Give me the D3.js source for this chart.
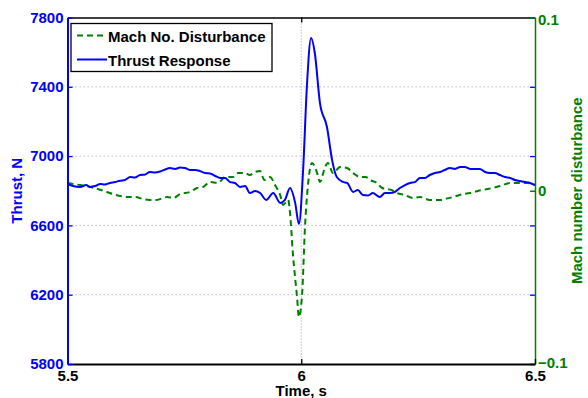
<!DOCTYPE html>
<html>
<head>
<meta charset="utf-8">
<script src="https://cdn.jsdelivr.net/npm/d3@7"></script>
<style>
  html, body { margin: 0; padding: 0; background: #fff; }
  svg { display: block; font-family: "Liberation Sans", Arial, sans-serif; font-weight: bold; }
</style>
</head>
<body>
<div id="chart"></div>
<script>
// thrust response (N)
const thrustTime = [5.5, 5.512, 5.527, 5.54, 5.548, 5.559, 5.57, 5.58, 5.591, 5.602, 5.612, 5.623, 5.634, 5.644,
  5.655, 5.666, 5.676, 5.687, 5.698, 5.709, 5.719, 5.73, 5.741, 5.751, 5.762, 5.773, 5.783, 5.794, 5.805, 5.816,
  5.826, 5.837, 5.848, 5.858, 5.869, 5.88, 5.89, 5.901, 5.912, 5.925, 5.94, 5.955, 5.965, 5.976, 5.987, 5.995,
  6.004, 6.012, 6.021, 6.029, 6.04, 6.055, 6.066, 6.076, 6.089, 6.098, 6.111, 6.121, 6.132, 6.143, 6.153, 6.168,
  6.179, 6.19, 6.2, 6.211, 6.222, 6.233, 6.243, 6.254, 6.265, 6.275, 6.286, 6.297, 6.307, 6.318, 6.329, 6.34,
  6.35, 6.361, 6.372, 6.382, 6.393, 6.404, 6.414, 6.425, 6.436, 6.447, 6.457, 6.468, 6.479, 6.489, 6.5]
const thrustValue = [6839, 6827, 6822, 6833, 6822, 6827, 6839, 6836, 6845, 6850, 6858, 6862, 6879, 6876,
  6891, 6894, 6908, 6905, 6911, 6923, 6931, 6926, 6934, 6931, 6920, 6920, 6914, 6902, 6900, 6885,
  6874, 6874, 6850, 6845, 6822, 6827, 6787, 6798, 6787, 6747, 6787, 6730, 6747, 6816, 6730, 6608,
  6920, 7399, 7682, 7595, 7306, 7168, 6977, 6879, 6851, 6845, 6793, 6804, 6775, 6773, 6787, 6764,
  6787, 6787, 6793, 6816, 6833, 6845, 6850, 6874, 6874, 6891, 6902, 6908, 6920, 6931, 6926, 6937,
  6937, 6926, 6926, 6926, 6908, 6902, 6902, 6891, 6879, 6874, 6862, 6856, 6850, 6845, 6833]

// mach number disturbance
const machTime = [5.5, 5.512, 5.527, 5.548, 5.565, 5.584, 5.597, 5.612, 5.627, 5.644, 5.662, 5.676, 5.691,
  5.704, 5.713, 5.726, 5.741, 5.762, 5.777, 5.79, 5.805, 5.822, 5.837, 5.854, 5.865, 5.88, 5.89, 5.901, 5.912,
  5.921, 5.933, 5.944, 5.955, 5.961, 5.972, 5.976, 5.982, 5.991, 5.995, 6.002, 6.008, 6.014, 6.023, 6.034,
  6.04, 6.051, 6.057, 6.068, 6.083, 6.098, 6.111, 6.126, 6.138, 6.147, 6.162, 6.173, 6.194, 6.205, 6.222,
  6.239, 6.254, 6.275, 6.297, 6.307, 6.325, 6.346, 6.361, 6.378, 6.399, 6.425, 6.447, 6.468, 6.483, 6.5]
const machValue = [0.0045, 0.0039, 0.0033, 0.0022, 0.001, -0.0007, -0.0019, -0.003, -0.0036, -0.0036, -0.0048,
  -0.0053, -0.0053, -0.0042, -0.0036, -0.0042, -0.0019, -0.0007, 0.0016, 0.0022, 0.0051, 0.0045, 0.0079,
  0.0079, 0.0102, 0.0102, 0.0091, 0.0108, 0.0114, 0.0062, 0.0079, 0.0033, -0.0025, -0.0082, -0.0053, -0.0128,
  -0.0359, -0.0613, -0.0729, -0.059, -0.0209, 0.0022, 0.016, 0.0102, 0.0051, 0.0137, 0.016, 0.0102, 0.0137,
  0.0131, 0.0102, 0.0079, 0.0079, 0.0062, 0.0045, 0.0016, 0.0004, -0.0013, -0.0025, -0.0042, -0.0036, -0.0053,
  -0.0053, -0.0048, -0.0036, -0.0019, -0.0013, -0.0001, 0.001, 0.0027, 0.0045, 0.0045, 0.0045, 0.0033]

const timeTicks = [5.5, 6, 6.5]
const thrustTicks = [5800, 6200, 6600, 7000, 7400, 7800]
const machTicks = [-0.1, 0, 0.1]
const legendLabels = ["Mach No. Disturbance", "Thrust Response"]

const width = 588
const height = 398
const margin = { top: 17.5, right: 53, bottom: 34, left: 67.5 }
const blue = "#0000ff"
const green = "#008000"

const x = d3.scaleLinear().domain([5.5, 6.5]).range([margin.left, width - margin.right])
const yT = d3.scaleLinear().domain([5800, 7800]).range([height - margin.bottom, margin.top])
const yM = d3.scaleLinear().domain([-0.1, 0.1]).range([height - margin.bottom, margin.top])

const svg = d3.select("#chart").append("svg")
  .attr("width", width)
  .attr("height", height)

const x0 = margin.left, x1 = width - margin.right
const y0 = height - margin.bottom, y1 = margin.top

// grid
svg.append("g")
  .selectAll("line")
  .data(thrustTicks.slice(1, -1))
  .join("line")
  .attr("x1", x0).attr("x2", x1)
  .attr("y1", (d) => yT(d)).attr("y2", (d) => yT(d))
  .attr("stroke", "#a8a8ff")
  .attr("stroke-width", 1)
  .attr("stroke-dasharray", "1.3,2.7")

svg.append("line")
  .attr("x1", x(6)).attr("x2", x(6))
  .attr("y1", y1).attr("y2", y0)
  .attr("stroke", "#a0a0a0")
  .attr("stroke-width", 1)
  .attr("stroke-dasharray", "1,2")

// curves
const machLine = d3.line()
  .x((d, i) => x(machTime[i]))
  .y((d) => yM(d))
  .curve(d3.curveMonotoneX)

const thrustLine = d3.line()
  .x((d, i) => x(thrustTime[i]))
  .y((d) => yT(d))
  .curve(d3.curveMonotoneX)

svg.append("path")
  .attr("d", machLine(machValue))
  .attr("fill", "none")
  .attr("stroke", green)
  .attr("stroke-width", 2)
  .attr("stroke-dasharray", "6,4")

svg.append("path")
  .attr("d", thrustLine(thrustValue))
  .attr("fill", "none")
  .attr("stroke", blue)
  .attr("stroke-width", 2)

// top border with tick
svg.append("g")
  .attr("transform", `translate(0,${y1})`)
  .call(d3.axisTop(x).tickValues([6]).tickSize(-5).tickSizeOuter(0).tickFormat(""))
  .call((g) => g.selectAll("path, line").attr("stroke", "#000").attr("stroke-width", 1.3))

// blue ticks mirrored on the right edge
svg.append("g")
  .attr("transform", `translate(${x1},0)`)
  .call(d3.axisRight(yT).tickValues(thrustTicks).tickSize(-5).tickSizeOuter(0).tickFormat(""))
  .call((g) => g.select(".domain").remove())
  .call((g) => g.selectAll("line").attr("stroke", blue).attr("stroke-width", 1.3))

// right mach axis
svg.append("g")
  .attr("transform", `translate(${x1},0)`)
  .call(d3.axisRight(yM).tickValues(machTicks).tickSize(-5).tickSizeOuter(0).tickPadding(3)
    .tickFormat((d) => (d === 0 ? "0" : d3.format(".1f")(d))))
  .call((g) => g.selectAll("path, line").attr("stroke", green).attr("stroke-width", 1.5))
  .call((g) => g.selectAll("text")
    .attr("fill", green)
    .attr("dy", (d) => (d > 0 ? "0.45em" : d < 0 ? "0.22em" : "0.32em"))
    .style("font-size", "15px").style("font-weight", "bold"))

// bottom axis
svg.append("g")
  .attr("transform", `translate(0,${y0})`)
  .call(d3.axisBottom(x).tickValues(timeTicks).tickSize(-5).tickSizeOuter(0).tickPadding(6)
    .tickFormat((d) => d3.format("")(d)))
  .call((g) => g.select(".domain").attr("stroke", "#000").attr("stroke-width", 2))
  .call((g) => g.selectAll("line").attr("stroke", "#000").attr("stroke-width", 1.3))
  .call((g) => g.selectAll("text").attr("fill", "#000").style("font-size", "15px").style("font-weight", "bold"))

// left thrust axis
svg.append("g")
  .attr("transform", `translate(${x0},0)`)
  .call(d3.axisLeft(yT).tickValues(thrustTicks).tickSize(-5).tickSizeOuter(0).tickPadding(4)
    .tickFormat((d) => d))
  .call((g) => g.select(".domain").attr("stroke", blue).attr("stroke-width", 2))
  .call((g) => g.selectAll("line").attr("stroke", blue).attr("stroke-width", 1.3))
  .call((g) => g.selectAll("text").attr("fill", blue).style("font-size", "15px").style("font-weight", "bold"))

// axis titles
svg.append("text")
  .attr("transform", `translate(22,${(y0 + y1) / 2}) rotate(-90)`)
  .attr("text-anchor", "middle")
  .attr("fill", blue)
  .attr("font-size", "15px")
  .text("Thrust, N")

svg.append("text")
  .attr("transform", `translate(582,${(y0 + y1) / 2}) rotate(-90)`)
  .attr("text-anchor", "middle")
  .attr("fill", green)
  .attr("font-size", "15px")
  .text("Mach number disturbance")

svg.append("text")
  .attr("x", x(6))
  .attr("y", 396)
  .attr("text-anchor", "middle")
  .attr("fill", "#000")
  .attr("font-size", "15px")
  .text("Time, s")

// legend
const legend = svg.append("g").attr("transform", "translate(71,23.5)")
legend.append("rect")
  .attr("width", 201)
  .attr("height", 48)
  .attr("fill", "#fff")
  .attr("stroke", "#000")
  .attr("stroke-width", 1.3)

const entries = legend.selectAll(".entry")
  .data(legendLabels)
  .join("g")
  .attr("class", "entry")
  .attr("transform", (d, i) => `translate(0,${12 + i * 24})`)

entries.append("line")
  .attr("x1", 6).attr("x2", 36)
  .attr("stroke", (d, i) => (i === 0 ? green : blue))
  .attr("stroke-width", 2)
  .attr("stroke-dasharray", (d, i) => (i === 0 ? "6,4" : null))

entries.append("text")
  .attr("x", 37)
  .attr("y", 6)
  .attr("fill", "#000")
  .attr("font-size", "15px")
  .text((d) => d)
</script>
</body>
</html>
